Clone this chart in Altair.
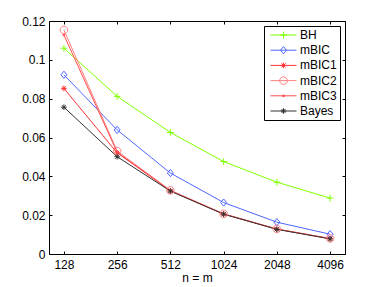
import re
import altair as alt
import pandas as pd

# ---------------- data ----------------
n_values = [128, 256, 512, 1024, 2048, 4096]
series_names = ["BH", "mBIC", "mBIC1", "mBIC2", "mBIC3", "Bayes"]
bh = [0.1060, 0.0812, 0.0626, 0.0476, 0.0370, 0.0288]
mbic = [0.0923, 0.0639, 0.0417, 0.0265, 0.0164, 0.0102]
mbic1 = [0.0853, 0.0521, 0.0326, 0.0206, 0.0128, 0.0079]
mbic2 = [0.1154, 0.0530, 0.0328, 0.0207, 0.0129, 0.0080]
mbic3 = [0.1128, 0.0524, 0.0326, 0.0206, 0.0128, 0.0079]
bayes = [0.0756, 0.0501, 0.0324, 0.0205, 0.0127, 0.0078]
y_ticks = [0, 0.02, 0.04, 0.06, 0.08, 0.1, 0.12]
colors = ["#80ff00", "#4d66ff", "#ff3333", "#ff8080", "#ff4d4d", "#333333"]

rows = []
for name, vals in zip(series_names, [bh, mbic, mbic1, mbic2, mbic3, bayes]):
    for n, v in zip(n_values, vals):
        rows.append({"n": n, "value": v, "series": name})
df = pd.DataFrame(rows)

# ---------------- styles ----------------
FONT = "Liberation Sans"
TICK = 3

plot_paths = [
    "M-0.85,0H0.85M0,-0.85V0.85",                                        # plus
    "M0,-0.9L0.75,0L0,0.9L-0.75,0Z",                                     # diamond
    "M-0.7,0H0.7M0,-0.7V0.7M-0.5,-0.5L0.5,0.5M-0.5,0.5L0.5,-0.5",        # asterisk
    "M0.95,0A0.95,0.95,0,1,1,-0.95,0A0.95,0.95,0,1,1,0.95,0Z",            # circle
    "M-0.2,-0.2H0.2V0.2H-0.2Z",                                          # dot
    "M-0.7,0H0.7M0,-0.7V0.7M-0.5,-0.5L0.5,0.5M-0.5,0.5L0.5,-0.5",        # asterisk
]

# legend symbol = horizontal line + marker (legend symbol is 26px wide, plot marker unit 4px)
LK = 4.0 / 13.0


def to_legend(p):
    if "A" in p:
        r = round(0.95 * LK, 4)
        return f"M-1,0H1M{r},0A{r},{r},0,1,1,-{r},0A{r},{r},0,1,1,{r},0Z"
    return "M-1,0H1" + re.sub(r"-?\d+(\.\d+)?",
                              lambda m: str(round(float(m.group(0)) * LK, 4)), p)


legend_paths = [to_legend(p) for p in plot_paths]

xdom = [128 / 2 ** 0.28, 4096 * 2 ** 0.28]
xscale = alt.Scale(type="log", base=2, domain=xdom, nice=False)
yscale = alt.Scale(domain=[0, 0.12], nice=False, zero=False)
color_scale = alt.Scale(domain=series_names, range=colors)

axis_common = dict(domain=False, grid=False, tickSize=TICK, offset=-TICK,
                   tickColor="black", tickWidth=1, labelFont=FONT,
                   labelFontSize=12, labelColor="black")

lines = alt.Chart(df).mark_line(strokeWidth=1).encode(
    x=alt.X("n:Q", scale=xscale,
            axis=alt.Axis(orient="bottom", values=n_values, format="d",
                          title="n = m", labelPadding=5, titlePadding=2,
                          titleFontWeight="normal", titleFontSize=12,
                          titleFont=FONT, titleColor="black", **axis_common)),
    y=alt.Y("value:Q", scale=yscale,
            axis=alt.Axis(orient="left", values=y_ticks,
                          labelExpr="datum.value + ''",
                          title=None, labelPadding=4, **axis_common)),
    color=alt.Color("series:N", scale=color_scale, legend=None),
)

points = alt.Chart(df).mark_point(filled=False, opacity=1, strokeWidth=1, size=64).encode(
    x=alt.X("n:Q", scale=xscale,
            axis=alt.Axis(orient="top", values=n_values, labels=False,
                          title=None, **axis_common)),
    y=alt.Y("value:Q", scale=yscale,
            axis=alt.Axis(orient="right", values=y_ticks, labels=False,
                          title=None, **axis_common)),
    color=alt.Color("series:N", scale=color_scale, legend=None),
    shape=alt.Shape("series:N", scale=alt.Scale(domain=series_names, range=plot_paths),
                    legend=None),
)

leg_props = dict(title=None, orient="top-right", offset=5, padding=3,
                 strokeColor="black", fillColor="white", cornerRadius=0,
                 symbolSize=676, symbolOffset=3, clipHeight=12, rowPadding=3.2,
                 labelFont=FONT, labelFontSize=12, labelColor="black",
                 labelOffset=3, symbolStrokeWidth=1)

legend_layer = alt.Chart(df).transform_filter("false").mark_point(
    filled=False, opacity=1, strokeWidth=1).encode(
    shape=alt.Shape("series:N", scale=alt.Scale(domain=series_names, range=legend_paths),
                    legend=alt.Legend(**leg_props)),
    color=alt.Color("series:N", scale=alt.Scale(domain=series_names, range=colors),
                    legend=alt.Legend(**leg_props)),
)

chart = alt.layer(lines, points, legend_layer).resolve_scale(
    shape="independent", color="independent"
).properties(
    width=296, height=233,
    autosize=alt.AutoSizeParams(type="none"),
    padding={"left": 41, "top": 13, "right": 29, "bottom": 33},
).configure_view(stroke="black", strokeWidth=1)

chart.save("out.html", embed_options={"renderer": "svg", "actions": False})
